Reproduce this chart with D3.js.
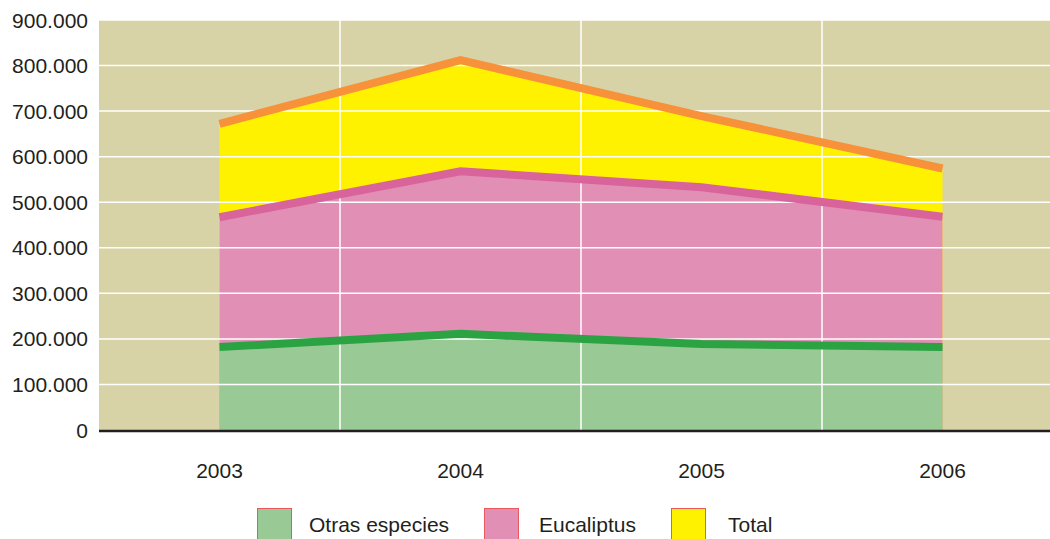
<!DOCTYPE html>
<html>
<head>
<meta charset="utf-8">
<script src="https://cdn.jsdelivr.net/npm/d3@7"></script>
<style>
  body { margin: 0; background: #fff; }
  svg { display: block; font-family: "Liberation Sans", Arial, sans-serif; }
</style>
</head>
<body>
<div id="chart"></div>
<script>
// data (top edge of each band)
const years = ["2003", "2004", "2005", "2006"];
const otras = [182000, 211000, 189000, 182000];
const eucaliptus = [467000, 568000, 533000, 468000];
const total = [672000, 812000, 689000, 574000];
const yTicks = [0, 100000, 200000, 300000, 400000, 500000, 600000, 700000, 800000, 900000];

const series = [
  { name: "Total", values: total, fill: "#fff200", line: "#f7913a" },
  { name: "Eucaliptus", values: eucaliptus, fill: "#e28fb6", line: "#d9649c" },
  { name: "Otras especies", values: otras, fill: "#99c995", line: "#2ca343" }
];
const legendOrder = ["Otras especies", "Eucaliptus", "Total"];

const W = 1050, H = 539;
const plot = { left: 99, top: 20, right: 1050, bottom: 430 };

const svg = d3.select("#chart").append("svg")
  .attr("width", W)
  .attr("height", H);

// band per year, last band runs past the right edge
const x = d3.scaleBand().domain(years).range([plot.left, plot.left + 241 * years.length]);
const y = d3.scaleLinear().domain([0, 900000]).range([plot.bottom, plot.top]);
const cx = d => x(d) + x.bandwidth() / 2;

svg.append("defs").append("clipPath").attr("id", "clip")
  .append("rect")
  .attr("x", plot.left).attr("y", plot.top)
  .attr("width", plot.right - plot.left).attr("height", plot.bottom - plot.top);

const g = svg.append("g").attr("clip-path", "url(#clip)");

g.append("rect")
  .attr("x", plot.left).attr("y", plot.top)
  .attr("width", plot.right - plot.left).attr("height", plot.bottom - plot.top)
  .attr("fill", "#d8d3a6");

const area = d3.area()
  .x((d, i) => cx(years[i]))
  .y0(y(0))
  .y1(d => y(d));
const line = d3.line()
  .x((d, i) => cx(years[i]))
  .y(d => y(d));

g.selectAll("path.fill")
  .data(series)
  .enter().append("path")
  .attr("class", "fill")
  .attr("d", d => area(d.values))
  .attr("fill", d => d.fill);

// white grid on top of fills
g.selectAll("line.hgrid")
  .data(yTicks.slice(1))
  .enter().append("line")
  .attr("class", "hgrid")
  .attr("x1", plot.left).attr("x2", plot.right)
  .attr("y1", d => y(d)).attr("y2", d => y(d))
  .attr("stroke", "#fff").attr("stroke-width", 1.5);

g.selectAll("line.vgrid")
  .data(years.slice(1))
  .enter().append("line")
  .attr("class", "vgrid")
  .attr("x1", d => x(d)).attr("x2", d => x(d))
  .attr("y1", plot.top).attr("y2", plot.bottom)
  .attr("stroke", "#fff").attr("stroke-width", 1.5);

g.selectAll("path.edge")
  .data(series)
  .enter().append("path")
  .attr("class", "edge")
  .attr("d", d => line(d.values))
  .attr("fill", "none")
  .attr("stroke", d => d.line)
  .attr("stroke-width", 8);

// baseline
svg.append("line")
  .attr("x1", plot.left).attr("x2", plot.right)
  .attr("y1", plot.bottom + 1).attr("y2", plot.bottom + 1)
  .attr("stroke", "#231f20").attr("stroke-width", 2.5);

// y labels
const fmt = d3.formatLocale({ decimal: ",", thousands: ".", grouping: [3], currency: ["", ""] }).format(",d");
svg.selectAll("text.ylab")
  .data(yTicks)
  .enter().append("text")
  .attr("class", "ylab")
  .attr("x", 88)
  .attr("y", d => y(d))
  .attr("dy", "0.36em")
  .attr("text-anchor", "end")
  .attr("font-size", 21)
  .attr("fill", "#231f20")
  .text(d => fmt(d));

// x labels
svg.selectAll("text.xlab")
  .data(years)
  .enter().append("text")
  .attr("class", "xlab")
  .attr("x", d => cx(d))
  .attr("y", 478)
  .attr("text-anchor", "middle")
  .attr("font-size", 21)
  .attr("fill", "#231f20")
  .text(d => d);

// legend
const legendX = [257, 484, 671];
const leg = svg.selectAll("g.leg")
  .data(legendOrder.map(n => series.find(s => s.name === n)))
  .enter().append("g")
  .attr("class", "leg")
  .attr("transform", (d, i) => `translate(${legendX[i]},508)`);
leg.append("rect")
  .attr("x", 0.5).attr("y", 0.5)
  .attr("width", 34).attr("height", 34)
  .attr("fill", d => d.fill)
  .attr("stroke", "#e8585e").attr("stroke-width", 1);
leg.append("text")
  .attr("x", (d, i) => [52, 55, 57][i])
  .attr("y", 24)
  .attr("font-size", 21)
  .attr("fill", "#231f20")
  .text(d => d.name);
</script>
</body>
</html>
